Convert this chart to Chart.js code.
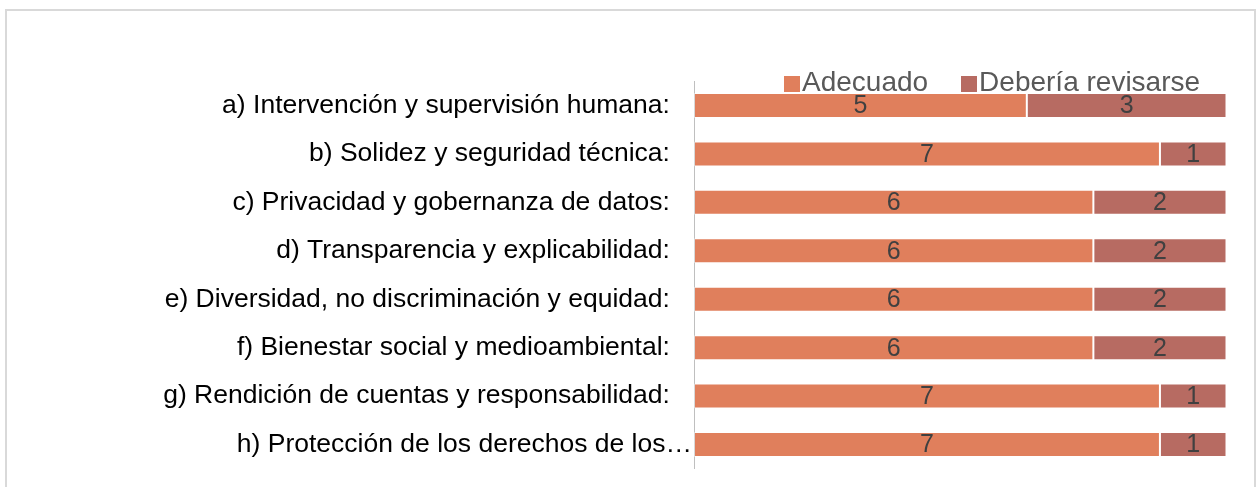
<!DOCTYPE html>
<html>
<head>
<meta charset="utf-8">
<script src="https://cdn.jsdelivr.net/npm/chart.js@4/dist/chart.umd.min.js"></script>
<style>
  html, body { margin: 0; padding: 0; background: #ffffff; overflow: hidden; }
  #wrap { position: relative; width: 1257px; height: 487px; }
  #frame { position: absolute; left: 5px; top: 9px; width: 1247px; height: 600px; border: 2px solid #d9d9d9; box-sizing: content-box; }
  #c { position: absolute; left: 0; top: 0; }
  #legend { position: absolute; left: 784px; top: 67px; font-family: "Liberation Sans", Arial, sans-serif; font-size: 28px; color: #595959; white-space: nowrap; line-height: 30px; }
  #legend .item { display: inline-block; margin-right: 33px; }
  #legend .box { display: inline-block; width: 16px; height: 16px; margin-right: 2px; vertical-align: -1px; }
</style>
</head>
<body>
<div id="wrap">
  <div id="frame"></div>
  <canvas id="c" width="1257" height="487"></canvas>
  <div id="legend"></div>
</div>
<script>
const categories = [
  "a) Intervención y supervisión humana:",
  "b) Solidez y seguridad técnica:",
  "c) Privacidad y gobernanza de datos:",
  "d) Transparencia y explicabilidad:",
  "e) Diversidad, no discriminación y equidad:",
  "f) Bienestar social y medioambiental:",
  "g) Rendición de cuentas y responsabilidad:",
  "h) Protección de los derechos de los…"
];
const adecuado = [5, 7, 6, 6, 6, 6, 7, 7];
const deberiaRevisarse = [3, 1, 2, 2, 2, 2, 1, 1];
const seriesNames = ["Adecuado", "Debería revisarse"];
const seriesColors = ["#E07F5C", "#B76B62"];
const xMin = 0, xMax = 8;

const FONT = '"Liberation Sans", Arial, sans-serif';

const barLabels = {
  id: 'barLabels',
  afterDatasetsDraw(chart) {
    const ctx = chart.ctx;
    ctx.save();
    ctx.font = '25px ' + FONT;
    ctx.fillStyle = '#404040';
    ctx.textAlign = 'center';
    ctx.textBaseline = 'middle';
    chart.data.datasets.forEach((ds, i) => {
      const meta = chart.getDatasetMeta(i);
      meta.data.forEach((el, j) => {
        const v = ds.data[j];
        if (!v) return;
        const p = el.getProps(['x', 'y', 'base'], true);
        ctx.fillText(String(v), (p.x + p.base) / 2, p.y + 1);
      });
    });
    ctx.restore();
  }
};

const chart = new Chart(document.getElementById('c'), {
  type: 'bar',
  data: {
    labels: categories,
    datasets: [
      { label: seriesNames[0], data: adecuado, backgroundColor: seriesColors[0], borderColor: 'rgba(255,255,255,0.4)', borderWidth: 1, borderSkipped: false },
      { label: seriesNames[1], data: deberiaRevisarse, backgroundColor: seriesColors[1], borderColor: 'rgba(255,255,255,0.4)', borderWidth: 1, borderSkipped: false }
    ]
  },
  options: {
    indexAxis: 'y',
    responsive: false,
    animation: false,
    barPercentage: 0.516,
    categoryPercentage: 1,
    layout: { padding: { left: 0, right: 30.5, top: 81.3, bottom: 18.3 } },
    plugins: {
      legend: { display: false },
      tooltip: { enabled: false }
    },
    scales: {
      x: { stacked: true, min: xMin, max: xMax, display: false },
      y: {
        stacked: true,
        grid: { display: false, drawTicks: false },
        border: { display: true, color: '#bfbfbf', width: 1 },
        afterFit: s => { s.width = 694; },
        ticks: {
          padding: 2,
          color: '#000000',
          font: { family: FONT, size: 26.5 },
          autoSkip: false,
          callback: function(v) {
            const l = this.getLabelForValue(v);
            return l.endsWith('…') ? l : l + '\u00A0\u00A0\u00A0';
          }
        }
      }
    }
  },
  plugins: [barLabels]
});

const lg = document.getElementById('legend');
chart.data.datasets.forEach(ds => {
  const it = document.createElement('span');
  it.className = 'item';
  const b = document.createElement('span');
  b.className = 'box';
  b.style.background = ds.backgroundColor;
  it.appendChild(b);
  it.appendChild(document.createTextNode(ds.label));
  lg.appendChild(it);
});
</script>
</body>
</html>
